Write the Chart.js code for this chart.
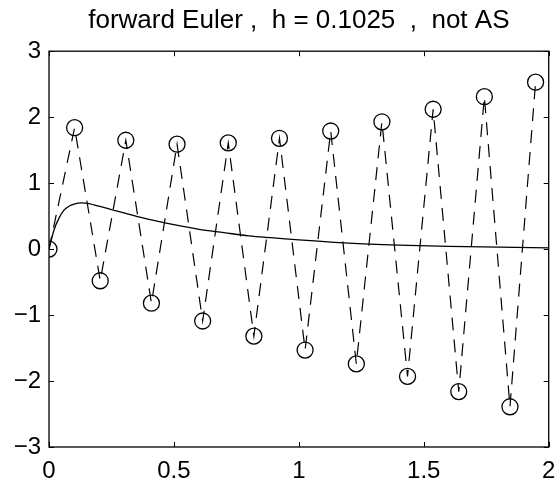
<!DOCTYPE html>
<html lang="en">
<head>
<meta charset="UTF-8">
<title>forward Euler</title>
<script src="https://cdn.jsdelivr.net/npm/chart.js"></script>
<style>
html, body { margin: 0; padding: 0; background: #fff; }
.chart-container { width: 558px; height: 485px; }
</style>
</head>
<body>
<div class="chart-container"><canvas id="eulerChart" width="558" height="485"></canvas></div>
<script>
// forward Euler steps, h = 0.1025
const eulerT = [0, 0.1025, 0.205, 0.3075, 0.41, 0.5125, 0.615, 0.7175, 0.82, 0.9225,
  1.025, 1.1275, 1.23, 1.3325, 1.435, 1.5375, 1.64, 1.7425, 1.845, 1.9475];
const eulerY = [0, 1.84, -0.48, 1.65, -0.82, 1.59, -1.09, 1.61, -1.32, 1.68,
  -1.53, 1.79, -1.74, 1.93, -1.93, 2.12, -2.16, 2.31, -2.39, 2.53];

// exact solution
const exactT = [0, 0.02, 0.04, 0.06, 0.08, 0.1, 0.13, 0.16, 0.2, 0.25, 0.3, 0.4, 0.5,
  0.6, 0.7, 0.8, 0.9, 1.0, 1.2, 1.4, 1.6, 1.8, 2.0];
const exactY = [0, 0.29, 0.47, 0.59, 0.65, 0.68, 0.70, 0.69, 0.65, 0.60, 0.55, 0.45, 0.37,
  0.30, 0.25, 0.20, 0.17, 0.14, 0.09, 0.06, 0.04, 0.03, 0.02];

const xTicks = [0, 0.5, 1, 1.5, 2];
const yTicks = [-3, -2, -1, 0, 1, 2, 3];

const toPts = (xs, ys) => xs.map((x, i) => ({ x: x, y: ys[i] }));
const fmt = v => v < 0 ? '\u2212' + Math.abs(v) : String(v);

// box around the plot with inward ticks, matlab style
const boxPlugin = {
  id: 'box',
  afterLayout(chart) {
    // centre the title over the axes like matlab does
    const t = chart.titleBlock, a = chart.chartArea;
    if (t) { t.left = a.left; t.right = a.right; t.width = a.right - a.left; }
  },
  afterDraw(chart) {
    const { ctx, chartArea: a, scales } = chart;
    ctx.save();
    ctx.strokeStyle = '#000';
    ctx.lineWidth = 1.3;
    ctx.strokeRect(a.left, a.top, a.right - a.left, a.bottom - a.top);
    ctx.beginPath();
    xTicks.forEach(v => {
      const px = Math.round(scales.x.getPixelForValue(v)) + 0.5;
      ctx.moveTo(px, a.bottom); ctx.lineTo(px, a.bottom - 5);
      ctx.moveTo(px, a.top); ctx.lineTo(px, a.top + 5);
    });
    yTicks.forEach(v => {
      const py = Math.round(scales.y.getPixelForValue(v)) + 0.5;
      ctx.moveTo(a.left, py); ctx.lineTo(a.left + 5, py);
      ctx.moveTo(a.right, py); ctx.lineTo(a.right - 5, py);
    });
    ctx.lineWidth = 1;
    ctx.stroke();
    ctx.restore();
  }
};

new Chart(document.getElementById('eulerChart'), {
  type: 'scatter',
  data: {
    datasets: [
      {
        data: toPts(exactT, exactY),
        showLine: true,
        borderColor: '#000',
        borderWidth: 1.3,
        pointRadius: 0,
        cubicInterpolationMode: 'monotone'
      },
      {
        data: toPts(eulerT, eulerY),
        showLine: true,
        borderColor: '#000',
        borderWidth: 1.2,
        borderDash: [13, 9],
        pointRadius: 8,
        pointBorderWidth: 1.3,
        pointBorderColor: '#000',
        pointBackgroundColor: 'rgba(0,0,0,0)'
      }
    ]
  },
  options: {
    responsive: false,
    animation: false,
    layout: { padding: { left: 0, right: 0, top: 0, bottom: 0 } },
    plugins: {
      legend: { display: false },
      tooltip: { enabled: false },
      title: {
        display: true,
        text: 'forward Euler ,  h = 0.1025  ,  not AS',
        color: '#000',
        font: { family: 'Liberation Sans', size: 26, weight: 'normal' },
        padding: { top: 5, bottom: 15 }
      }
    },
    scales: {
      x: {
        type: 'linear',
        min: 0, max: 2,
        afterBuildTicks: s => { s.ticks = xTicks.map(v => ({ value: v })); },
        afterFit: s => { s.height = 38; s.paddingLeft = 0; s.paddingRight = 7; },
        grid: { display: false, drawTicks: false },
        border: { display: false },
        ticks: {
          color: '#000',
          padding: 10,
          autoSkip: false,
          maxRotation: 0,
          font: { family: 'Liberation Sans', size: 24 },
          callback: v => fmt(v)
        }
      },
      y: {
        type: 'linear',
        min: -3, max: 3,
        afterBuildTicks: s => { s.ticks = yTicks.map(v => ({ value: v })); },
        afterFit: s => { s.width = 49; },
        grid: { display: false, drawTicks: false },
        border: { display: false },
        ticks: {
          color: '#000',
          padding: 8,
          autoSkip: false,
          font: { family: 'Liberation Sans', size: 24 },
          callback: v => fmt(v)
        }
      }
    }
  },
  plugins: [boxPlugin]
});
</script>
</body>
</html>
